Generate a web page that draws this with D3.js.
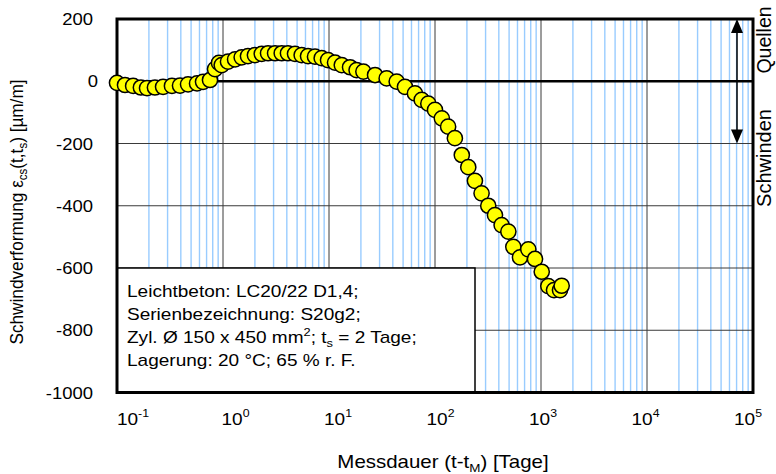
<!DOCTYPE html>
<html>
<head>
<meta charset="utf-8">
<script src="https://cdn.jsdelivr.net/npm/d3@7"></script>
<style>
  html, body { margin: 0; padding: 0; background: #fff; }
  svg text { font-family: "Liberation Sans", Arial, sans-serif; fill: #000; }
</style>
</head>
<body>
<svg id="chart" width="776" height="474"></svg>
<script>
// Measuring times t - t_M in days
const times = [
  0.100, 0.119, 0.142, 0.168, 0.192, 0.228, 0.272, 0.330, 0.393, 0.468,
  0.569, 0.648, 0.754, 0.841, 0.917, 0.972, 1.115, 1.30, 1.50, 1.72,
  2.00, 2.32, 2.66, 3.10, 3.58, 4.10, 4.78, 5.52, 6.34, 7.38,
  8.53, 9.79, 11.4, 13.2, 15.8, 18.2, 21.1, 27.2, 35.0, 43.5,
  52.1, 64.7, 74.9, 86.5, 100, 116, 133, 154, 179, 206,
  238, 275, 318, 368, 425, 492, 548, 634, 759, 878,
  1016, 1172, 1327, 1511, 1567
];
// Shrinkage strain eps_cs(t,t_s) in µm/m
const strains = [
  -5, -12, -15, -20, -22, -20, -18, -15, -14, -10,
  -7, -2, 4, 39, 59, 52, 63, 70, 77, 81,
  84, 88, 90, 90, 90, 90, 88, 84, 81, 79,
  74, 68, 60, 52, 45, 36, 31, 20, 9, -1,
  -18, -39, -60, -72, -92, -119, -146, -183, -237, -276,
  -320, -360, -400, -430, -462, -483, -532, -566, -540, -571,
  -612, -658, -671, -671, -657
];
const yTicks = [200, 0, -200, -400, -600, -800, -1000];
const yGrid = [-200, -400, -600, -800];
const xTickExps = [-1, 0, 1, 2, 3, 4, 5];
const infoLines = [
  [["Leichtbeton: LC20/22 D1,4;", 0, false]],
  [["Serienbezeichnung: S20g2;", 0, false]],
  [["Zyl. Ø 150 x 450 mm", 0, false], ["2", -7, true], ["; t", 7, false], ["s", 4, true], [" = 2 Tage;", -4, false]],
  [["Lagerung: 20 °C; 65 % r. F.", 0, false]]
];

const svg = d3.select("#chart");
const W = 776, H = 474;
const plot = { left: 117, right: 753, top: 19, bottom: 392.5 };
const stretch = 1.12; // horizontal text stretch

const x = d3.scaleLog().domain([0.1, 1e5]).range([plot.left, plot.right]);
const y = d3.scaleLinear().domain([-1000, 200]).range([plot.bottom, plot.top]);
// placement scale for the decade tick labels
const xLab = d3.scaleLog().domain([0.1, 1e5]).range([133, 748]);

svg.append("rect").attr("width", W).attr("height", H).attr("fill", "#fff");

// minor (blue) grid lines
const minorVals = [];
for (let e = -1; e < 5; e++) for (let m = 2; m <= 9; m++) minorVals.push(m * Math.pow(10, e));
svg.append("g").selectAll("line").data(minorVals).join("line")
  .attr("x1", d => x(d)).attr("x2", d => x(d))
  .attr("y1", plot.top).attr("y2", plot.bottom)
  .attr("stroke", "#99ccff").attr("stroke-width", 1.4);

// major vertical grid lines
svg.append("g").selectAll("line").data([1, 10, 100, 1000, 10000]).join("line")
  .attr("x1", d => x(d)).attr("x2", d => x(d))
  .attr("y1", plot.top).attr("y2", plot.bottom)
  .attr("stroke", "#3a3a3a").attr("stroke-width", 1);

// horizontal grid lines
svg.append("g").selectAll("line").data(yGrid).join("line")
  .attr("x1", plot.left).attr("x2", plot.right)
  .attr("y1", d => y(d)).attr("y2", d => y(d))
  .attr("stroke", "#3a3a3a").attr("stroke-width", 1);

// zero line
svg.append("line")
  .attr("x1", plot.left).attr("x2", plot.right)
  .attr("y1", y(0)).attr("y2", y(0))
  .attr("stroke", "#000").attr("stroke-width", 2.5);

// information box
const box = { x: plot.left, y: y(-600), w: 358, h: y(-1000) - y(-600) };
svg.append("rect")
  .attr("x", box.x).attr("y", box.y).attr("width", box.w).attr("height", box.h)
  .attr("fill", "#fff").attr("stroke", "#000").attr("stroke-width", 1.5);

const info = svg.append("g");
infoLines.forEach((parts, i) => {
  const t = info.append("text")
    .attr("transform", `translate(127,${297 + i * 23}) scale(${stretch},1)`)
    .attr("font-size", 17);
  parts.forEach(([s, dy, small]) => {
    const ts = t.append("tspan").text(s);
    if (dy) ts.attr("dy", dy);
    if (small) ts.attr("font-size", 11.5);
  });
});

// plot frame
svg.append("rect")
  .attr("x", plot.left).attr("y", plot.top)
  .attr("width", plot.right - plot.left).attr("height", plot.bottom - plot.top)
  .attr("fill", "none").attr("stroke", "#000").attr("stroke-width", 3);

// swelling / shrinkage arrow
const ax = 737;
svg.append("line").attr("x1", ax).attr("x2", ax)
  .attr("y1", y(200) + 10).attr("y2", y(-200) - 10)
  .attr("stroke", "#000").attr("stroke-width", 1.5);
svg.append("path")
  .attr("d", `M${ax},${y(200)} L${ax - 6},${y(200) + 14} L${ax + 6},${y(200) + 14} Z`)
  .attr("fill", "#000");
svg.append("path")
  .attr("d", `M${ax},${y(-200)} L${ax - 6},${y(-200) - 14} L${ax + 6},${y(-200) - 14} Z`)
  .attr("fill", "#000");

// data markers
svg.append("g").selectAll("circle").data(times.map((t, i) => [t, strains[i]])).join("circle")
  .attr("cx", d => x(d[0])).attr("cy", d => y(d[1])).attr("r", 7.6)
  .attr("fill", "#ffff00").attr("stroke", "#000").attr("stroke-width", 1.5);

// y tick labels
svg.append("g").selectAll("text").data(yTicks).join("text")
  .attr("transform", d => `translate(${d === 0 ? 98 : 93},${y(d) + 6}) scale(${stretch},1)`)
  .attr("text-anchor", "end").attr("font-size", 16.5)
  .text(d => d);

// x tick labels (powers of ten)
const xl = svg.append("g").selectAll("text").data(xTickExps).join("text")
  .attr("transform", e => `translate(${xLab(Math.pow(10, e))},425) scale(${stretch},1)`)
  .attr("text-anchor", "middle").attr("font-size", 17);
xl.append("tspan").text("10");
xl.append("tspan").attr("font-size", 11).attr("dy", -8).text(e => e);

// axis titles
const xt = svg.append("text")
  .attr("transform", `translate(443,468) scale(1.17,1)`)
  .attr("text-anchor", "middle").attr("font-size", 17.5);
xt.append("tspan").text("Messdauer (t-t");
xt.append("tspan").attr("font-size", 11.5).attr("dy", 4).text("M");
xt.append("tspan").attr("dy", -4).text(") [Tage]");

const yt = svg.append("text")
  .attr("transform", `translate(23,212) rotate(-90) scale(1,${stretch})`)
  .attr("text-anchor", "middle").attr("font-size", 17.2);
yt.append("tspan").text("Schwindverformung ε");
yt.append("tspan").attr("font-size", 11.5).attr("dy", 4).text("cs");
yt.append("tspan").attr("dy", -4).text("(t,t");
yt.append("tspan").attr("font-size", 11.5).attr("dy", 4).text("s");
yt.append("tspan").attr("dy", -4).text(") [µm/m]");

// side labels
svg.append("text")
  .attr("transform", `translate(771,40) rotate(-90) scale(1,1.05)`)
  .attr("text-anchor", "middle").attr("font-size", 19.5).text("Quellen");
svg.append("text")
  .attr("transform", `translate(771,158) rotate(-90) scale(1,1.05)`)
  .attr("text-anchor", "middle").attr("font-size", 20).text("Schwinden");
</script>
</body>
</html>
